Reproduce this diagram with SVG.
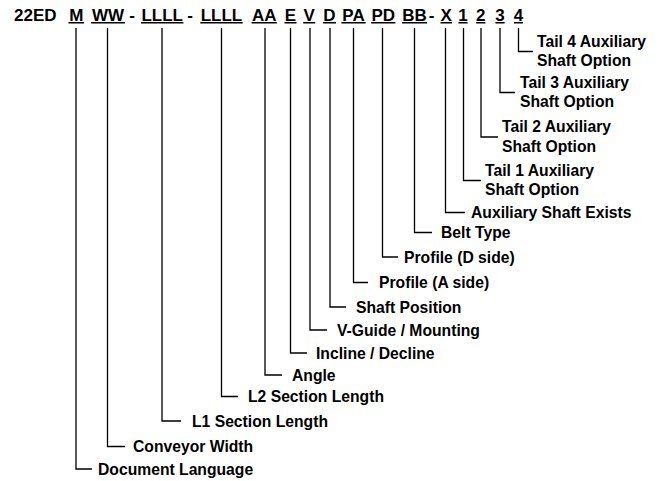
<svg xmlns="http://www.w3.org/2000/svg" width="667" height="481" viewBox="0 0 667 481">
<style>
.hdr{font-family:"Liberation Sans",Arial,sans-serif;font-weight:bold;font-size:17px;fill:#000;text-anchor:middle}
.lbl{font-family:"Liberation Sans",Arial,sans-serif;font-weight:bold;font-size:15.7px;fill:#000}
.ul{stroke:#000;stroke-width:1.4;fill:none}
.con{stroke:#000;stroke-width:1.3;fill:none}
</style>
<rect width="667" height="481" fill="#fff"/>
<g id="header">
<text class="hdr" x="14" y="21" style="text-anchor:start">22ED</text>
<text class="hdr" x="76.3" y="21">M</text>
<text class="hdr" x="108" y="21">WW</text>
<text class="hdr" x="132" y="21">-</text>
<text class="hdr" x="162.2" y="21">LLLL</text>
<text class="hdr" x="190" y="21">-</text>
<text class="hdr" x="221.5" y="21">LLLL</text>
<text class="hdr" x="264.2" y="21">AA</text>
<text class="hdr" x="290.5" y="21">E</text>
<text class="hdr" x="309.2" y="21">V</text>
<text class="hdr" x="329.5" y="21">D</text>
<text class="hdr" x="353.5" y="21">PA</text>
<text class="hdr" x="383.3" y="21">PD</text>
<text class="hdr" x="414.5" y="21">BB</text>
<text class="hdr" x="431.5" y="21">-</text>
<text class="hdr" x="446.2" y="21">X</text>
<text class="hdr" x="463" y="21">1</text>
<text class="hdr" x="480.8" y="21">2</text>
<text class="hdr" x="500" y="21">3</text>
<text class="hdr" x="518.5" y="21">4</text>
<path class="ul" d="M68.5 22.7H84.1M91 22.7H125M141 22.7H183.4M200.3 22.7H242.7M251.6 22.7H276.8M284.5 22.7H296.5M303.2 22.7H315.2M323 22.7H336M341.4 22.7H365.6M371.2 22.7H395.4M402 22.7H427M440.5 22.7H452M458.5 22.7H467.6M476.2 22.7H485.4M495.5 22.7H504.6M514 22.7H523"/>
</g>
<g id="connectors">
<path class="con" d="M518.5 28V51.5H533"/>
<path class="con" d="M500 28V92.5H515"/>
<path class="con" d="M481 28V137H498"/>
<path class="con" d="M463.5 28V180.5H481"/>
<path class="con" d="M445.5 28V212.5H465"/>
<path class="con" d="M414.5 28V232.5H432"/>
<path class="con" d="M382.5 28V257H398"/>
<path class="con" d="M353.5 28V282.5H368"/>
<path class="con" d="M330 28V307H346"/>
<path class="con" d="M310 28V330H327"/>
<path class="con" d="M290.5 28V353H307"/>
<path class="con" d="M265 28V375H282"/>
<path class="con" d="M221.5 28V396.5H238"/>
<path class="con" d="M162 28V421H181"/>
<path class="con" d="M107.5 28V446.5H125"/>
<path class="con" d="M76 28V469H92"/>
</g>
<g id="n-tail4"><text class="lbl" x="537" y="46.5">Tail 4 Auxiliary</text><text class="lbl" x="537" y="66">Shaft Option</text></g>
<g id="n-tail3"><text class="lbl" x="520" y="87.5">Tail 3 Auxiliary</text><text class="lbl" x="520" y="107">Shaft Option</text></g>
<g id="n-tail2"><text class="lbl" x="502" y="132">Tail 2 Auxiliary</text><text class="lbl" x="502" y="151.5">Shaft Option</text></g>
<g id="n-tail1"><text class="lbl" x="485" y="175.5">Tail 1 Auxiliary</text><text class="lbl" x="485" y="195">Shaft Option</text></g>
<g id="n-auxexists"><text class="lbl" x="471" y="218">Auxiliary Shaft Exists</text></g>
<g id="n-belttype"><text class="lbl" x="441" y="238">Belt Type</text></g>
<g id="n-profiled"><text class="lbl" x="404" y="262.5">Profile (D side)</text></g>
<g id="n-profilea"><text class="lbl" x="379" y="288">Profile (A side)</text></g>
<g id="n-shaftpos"><text class="lbl" x="356" y="312.5">Shaft Position</text></g>
<g id="n-vguide"><text class="lbl" x="337" y="335.5">V-Guide / Mounting</text></g>
<g id="n-incline"><text class="lbl" x="316" y="358.5">Incline / Decline</text></g>
<g id="n-angle"><text class="lbl" x="292" y="380.5">Angle</text></g>
<g id="n-l2"><text class="lbl" x="248" y="402">L2 Section Length</text></g>
<g id="n-l1"><text class="lbl" x="192" y="426.5">L1 Section Length</text></g>
<g id="n-width"><text class="lbl" x="133" y="452">Conveyor Width</text></g>
<g id="n-lang"><text class="lbl" x="98" y="474.5">Document Language</text></g>
</svg>
